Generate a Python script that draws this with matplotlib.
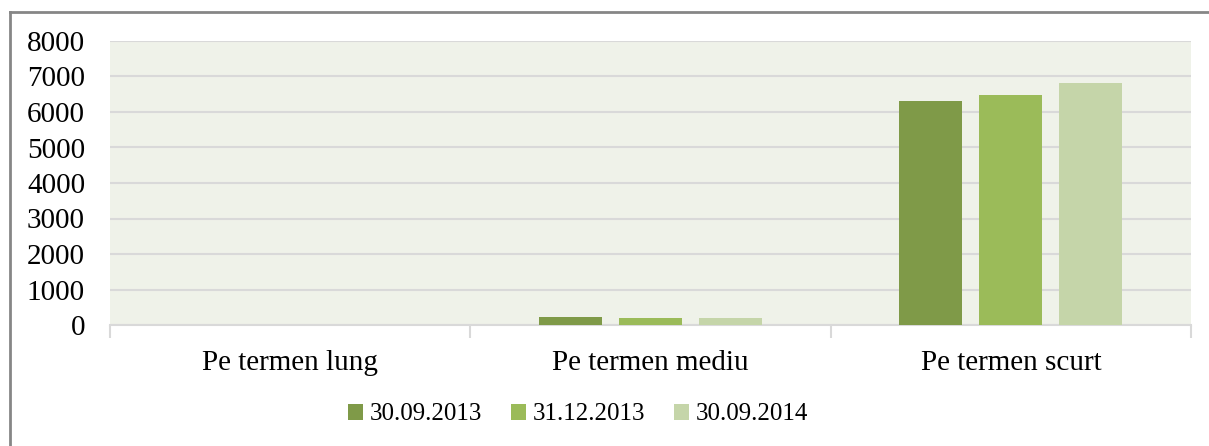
import matplotlib.pyplot as plt
import numpy as np

# Date
categorii = ['Pe termen lung', 'Pe termen mediu', 'Pe termen scurt']
serii = ['30.09.2013', '31.12.2013', '30.09.2014']
valori = {
    '30.09.2013': [0, 235, 6310],
    '31.12.2013': [0, 190, 6480],
    '30.09.2014': [0, 190, 6825],
}
culori = ['#7f9a48', '#9bbb59', '#c5d5a9']

plt.rcParams['font.family'] = ['Liberation Serif', 'DejaVu Serif']

fig = plt.figure(figsize=(12.09, 4.46), dpi=100)
ax = fig.add_axes([110 / 1209, 1 - 325 / 446, (1191 - 110) / 1209, (325 - 41) / 446])

x = np.arange(len(categorii))
latime = 0.175
pas = 0.222
for i, s in enumerate(serii):
    ax.bar(x + (i - 1) * pas, valori[s], width=latime, color=culori[i],
           label=s, zorder=3)

ax.set_xlim(-0.5, 2.5)
ax.set_ylim(0, 8000)
ax.set_yticks(range(0, 8001, 1000))
ax.set_facecolor('#eff2e9')
ax.yaxis.grid(True, color='#d9d9d9', linewidth=1.5, zorder=0)
ax.set_axisbelow(True)

for sp in ['top', 'right', 'left']:
    ax.spines[sp].set_visible(False)
ax.spines['bottom'].set_color('#d9d9d9')
ax.spines['bottom'].set_linewidth(1.5)

ax.set_xticks(x)
ax.set_xticklabels(categorii)
ax.set_xticks([-0.5, 0.5, 1.5, 2.5], minor=True)
ax.tick_params(axis='x', which='major', length=0, pad=18, labelsize=21)
ax.tick_params(axis='x', which='minor', length=9, color='#d9d9d9', width=1.5)
ax.tick_params(axis='y', length=0, pad=18, labelsize=21)

ax.legend(loc='center', bbox_to_anchor=(0.433, -0.315), ncol=3,
          frameon=False, fontsize=18, handlelength=0.6, handleheight=0.6,
          handletextpad=0.28, columnspacing=1.15)

# chenar exterior
fig.add_artist(plt.Line2D([10 / 1209, 10 / 1209], [0, 1 - 12 / 446],
                          transform=fig.transFigure, color='#868686', linewidth=2))
fig.add_artist(plt.Line2D([10 / 1209, 1], [1 - 12 / 446, 1 - 12 / 446],
                          transform=fig.transFigure, color='#868686', linewidth=2))

fig.savefig('out.png', dpi=100)
